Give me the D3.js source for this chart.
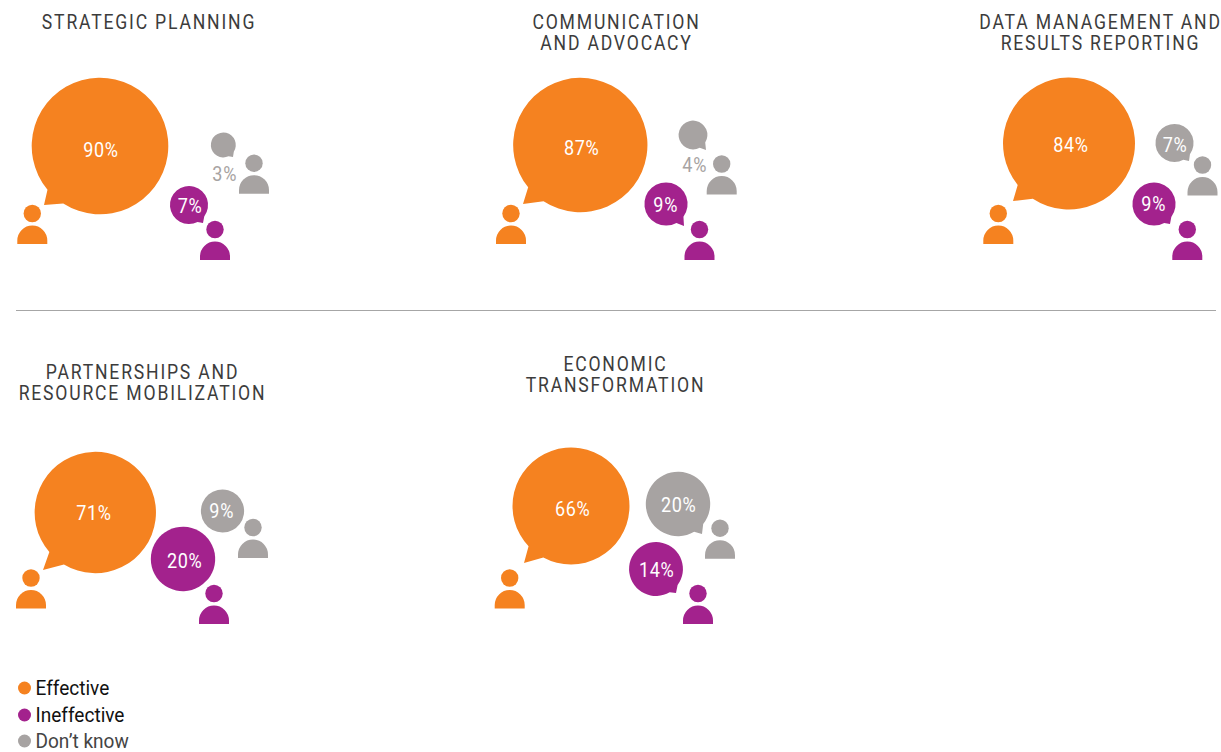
<!DOCTYPE html>
<html><head><meta charset="utf-8">
<script src="https://cdn.jsdelivr.net/npm/d3@7/dist/d3.min.js"></script>
<style>html,body{margin:0;padding:0;background:#fff}svg{display:block}text{font-family:Roboto,sans-serif}</style>
</head><body><svg id="c" width="1221" height="752"></svg>
<script>
// data
const categories = ["Strategic Planning","Communication and Advocacy","Data Management and Results Reporting","Partnerships and Resource Mobilization","Economic Transformation"];
const effective = [90,87,84,71,66];
const ineffective = [7,9,9,20,14];
const dontKnow = [3,4,7,9,20];
const legendLabels = ["Effective","Ineffective","Don\u2019t know"];

// layout (separate from data)
const titleLines = [["STRATEGIC PLANNING"],["COMMUNICATION","AND ADVOCACY"],["DATA MANAGEMENT AND","RESULTS REPORTING"],["PARTNERSHIPS AND","RESOURCE MOBILIZATION"],["ECONOMIC","TRANSFORMATION"]];
const titlePos = [[149,28.7],[616.5,28.7],[1100.5,28.7],[142.5,379],[615.5,370.7]];
const colors = {effective:"#F58220",ineffective:"#A3228D",dontKnow:"#A7A3A2"};
// per panel: bubble centre, tail tip, person [left,bottom], label centre
const effLayout = [
 {c:[100,146],t:[44,205],p:[17.3,244],l:[101,150]},
 {c:[580.3,145],t:[523,204],p:[496,244],l:[581.7,148]},
 {c:[1069,143.5],t:[1013,201],p:[983.3,244],l:[1071,145]},
 {c:[95.3,512.5],t:[43,570],p:[16,608.5],l:[94,513]},
 {c:[571,506],t:[524,563],p:[494.7,608.5],l:[572.7,509]}];
const inefLayout = [
 {c:[189,205],t:[203,223],p:[200,260],l:[190,206]},
 {c:[666,204],t:[684,226],p:[684.5,260],l:[665.7,205]},
 {c:[1154,204],t:[1170,224],p:[1172.3,260],l:[1153.7,204]},
 {c:[183,559],t:[203,584],p:[199,624],l:[184.7,561]},
 {c:[656,569],t:[676,593],p:[683,624],l:[656.7,570]}];
const dkLayout = [
 {c:[223.3,145],t:[233,157],p:[239,193.7],l:[224.7,174],out:true},
 {c:[693,135],t:[706,150],p:[706.7,194.5],l:[694.7,165],out:true},
 {c:[1174.5,143],t:[1189,161],p:[1187.5,195.5],l:[1175,145]},
 {c:[222.5,511],t:[236,528],p:[238,558],l:[221.7,511]},
 {c:[678,504],t:[702,534],p:[705,558.7],l:[678.7,505]}];

const svg = d3.select("#c");
const r = d3.scaleSqrt().domain([0,90]).range([0,68.3]);

// panel titles
categories.forEach((cat,i)=>{
  const g = svg.append("g").attr("class","title").attr("data-category",cat);
  titleLines[i].forEach((ln,j)=>{
    g.append("text").attr("transform",`translate(${titlePos[i][0]},${titlePos[i][1]+j*21}) scale(0.88,1)`)
     .attr("text-anchor","middle").attr("font-size",20).attr("letter-spacing",2.05)
     .attr("fill","#3c3c3c").text(ln);
  });
});

// divider
svg.append("line").attr("x1",16).attr("x2",1216).attr("y1",310.5).attr("y2",310.5)
  .attr("stroke","#a6a6a6").attr("stroke-width",1);

function bubblePath(cx,cy,rad,tip,before,after){
  const a = Math.atan2(tip[1]-cy,tip[0]-cx);
  const a1 = a+before/rad, a2 = a-after/rad;
  const x1=cx+rad*Math.cos(a1), y1=cy+rad*Math.sin(a1);
  const x2=cx+rad*Math.cos(a2), y2=cy+rad*Math.sin(a2);
  return `M${x2},${y2}A${rad},${rad} 0 1 0 ${x1},${y1}L${tip[0]},${tip[1]}Z`;
}
function person(p,col){
  const g = svg.append("g").attr("class","person").attr("fill",col);
  g.append("circle").attr("cx",p[0]+15).attr("cy",p[1]-30.5).attr("r",8.7);
  g.append("path").attr("d",`M${p[0]},${p[1]}V${p[1]-3.5}A15,15 0 0 1 ${p[0]+30},${p[1]-3.5}V${p[1]}Z`);
}
function series(values,layout,col,before,after){
  values.forEach((v,i)=>{
    const L = layout[i], rad = r(v);
    svg.append("path").attr("d",bubblePath(L.c[0],L.c[1],rad,L.t,before*rad/68+2,after*rad/68+2)).attr("fill",col);
    person(L.p,col);
    svg.append("text").attr("transform",`translate(${L.l[0]},${L.l[1]}) scale(0.88,1)`).attr("dy","0.36em")
      .attr("text-anchor","middle").attr("font-size",20.5).attr("font-weight",400)
      .attr("letter-spacing",0.75)
      .attr("fill",L.out?col:"#fff").text(v+"%");
  });
}
series(effective,effLayout,colors.effective,6,11);
series(ineffective,inefLayout,colors.ineffective,6,11);
series(dontKnow,dkLayout,colors.dontKnow,6,11);

// legend
const legendCols=[colors.effective,colors.ineffective,colors.dontKnow];
const legendTxt=["#111","#111","#444"];
const legendY=[688,715,741];
legendLabels.forEach((t,i)=>{
  svg.append("circle").attr("cx",24.5).attr("cy",legendY[i]).attr("r",6.5).attr("fill",legendCols[i]);
  svg.append("text").attr("transform",`translate(35.5,${legendY[i]+7}) scale(0.93,1)`)
    .attr("font-size",20.5).attr("fill",legendTxt[i]).text(t);
});
</script></body></html>
